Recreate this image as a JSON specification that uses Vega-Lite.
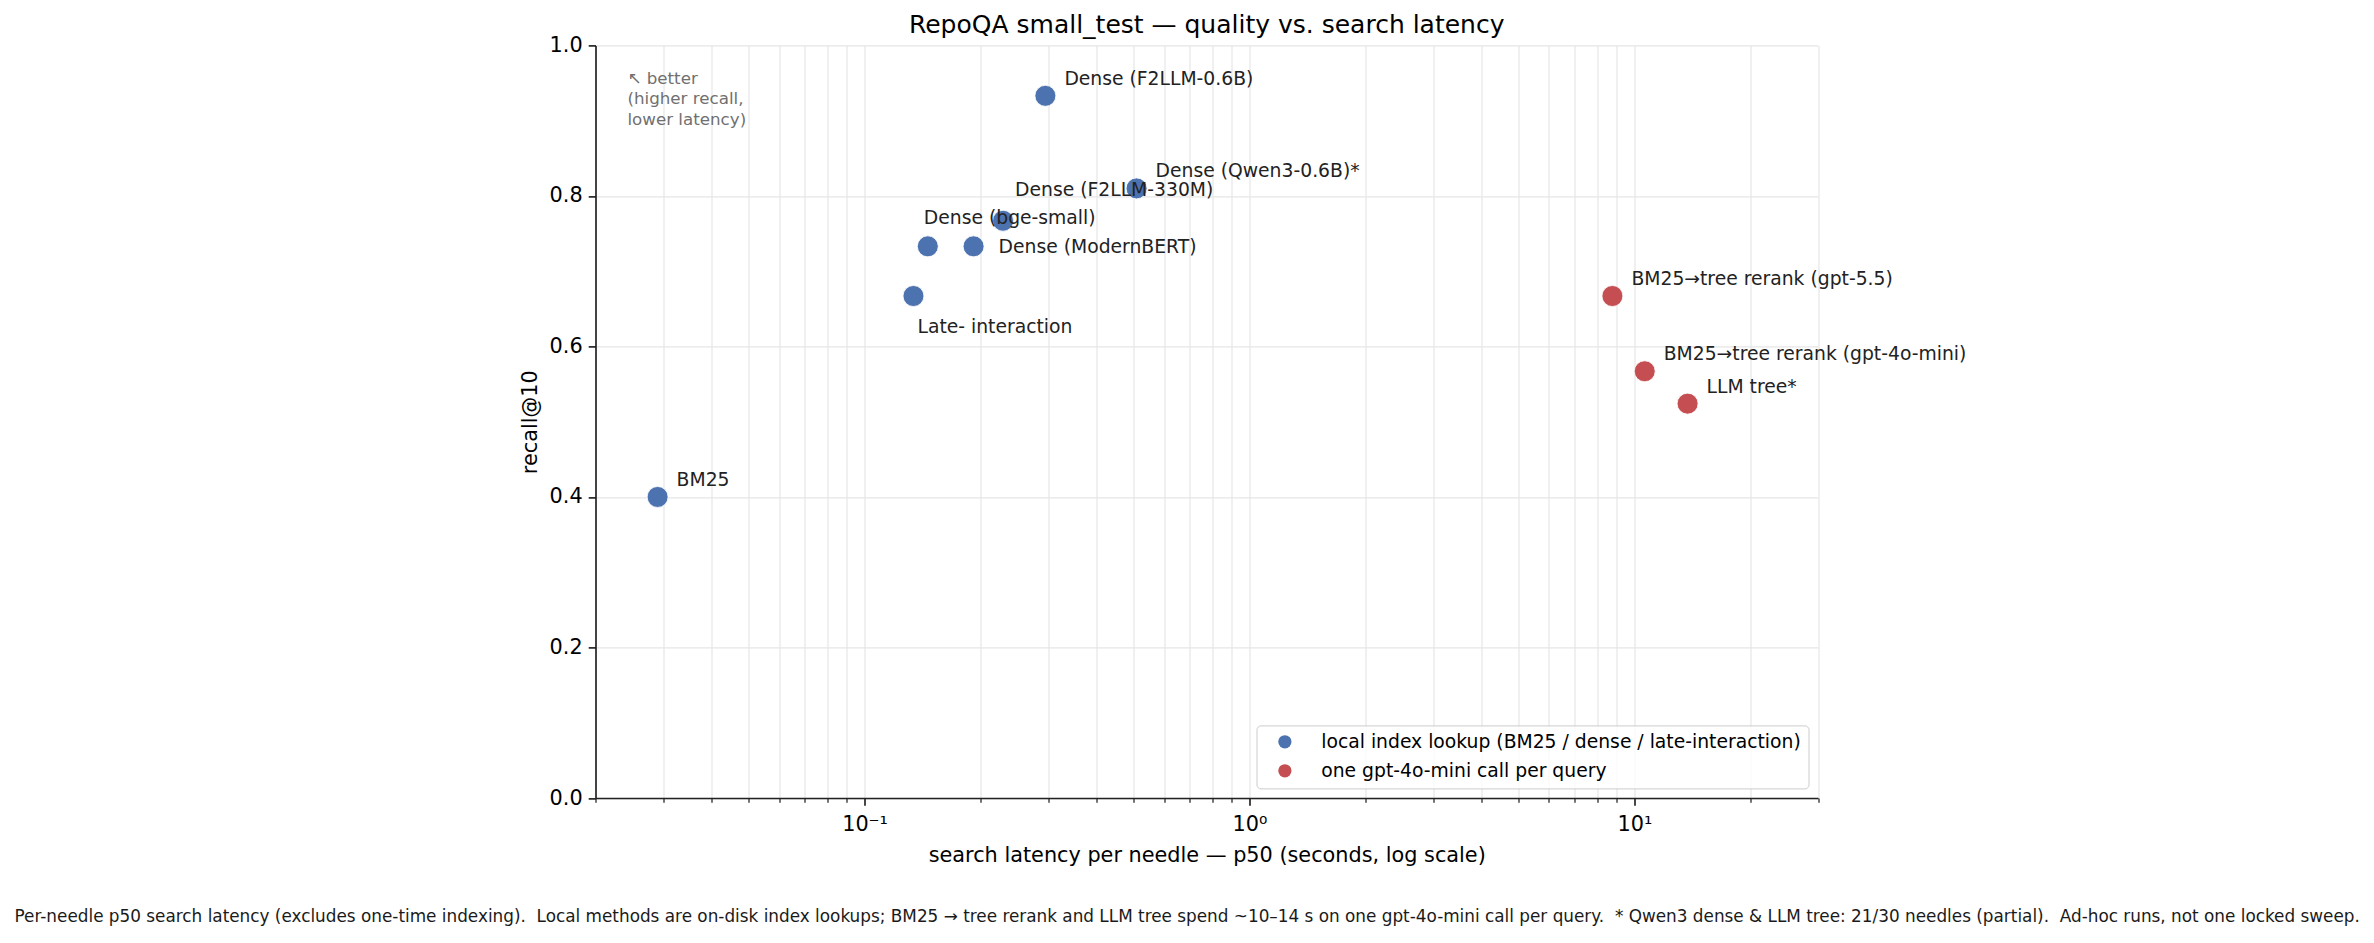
{
  "$schema": "https://vega.github.io/schema/vega-lite/v6.json",
  "width": 1222.5,
  "height": 752.6,
  "autosize": {"type": "none"},
  "padding": {"left": 595.5, "top": 45.4, "right": 556, "bottom": 145},
  "background": "white",
  "title": {
    "text": "RepoQA small_test — quality vs. search latency",
    "fontSize": 25,
    "font": "DejaVu Sans",
    "fontWeight": "normal",
    "color": "#000000",
    "anchor": "middle",
    "frame": "group",
    "baseline": "alphabetic",
    "offset": -24
  },
  "config": {
    "view": {"stroke": null},
    "font": "DejaVu Sans",
    "axis": {
      "labelFont": "DejaVu Sans",
      "titleFont": "DejaVu Sans",
      "labelFontSize": 20.8,
      "titleFontSize": 20.8,
      "titleFontWeight": "normal",
      "labelColor": "#000000",
      "titleColor": "#000000",
      "domainColor": "#222222",
      "domainWidth": 1.67,
      "tickColor": "#222222",
      "gridColor": "#e6e6e6",
      "gridWidth": 1.2
    }
  },
  "data": {
    "values": [
      {"label": "BM25", "lat": 0.029, "recall": 0.4, "kind": "local index lookup (BM25 / dense / late-interaction)"},
      {"label": "Late- interaction", "lat": 0.134, "recall": 0.667, "kind": "local index lookup (BM25 / dense / late-interaction)"},
      {"label": "Dense (bge-small)", "lat": 0.146, "recall": 0.733, "kind": "local index lookup (BM25 / dense / late-interaction)"},
      {"label": "Dense (ModernBERT)", "lat": 0.192, "recall": 0.733, "kind": "local index lookup (BM25 / dense / late-interaction)"},
      {"label": "Dense (F2LLM-330M)", "lat": 0.229, "recall": 0.767, "kind": "local index lookup (BM25 / dense / late-interaction)"},
      {"label": "Dense (F2LLM-0.6B)", "lat": 0.295, "recall": 0.933, "kind": "local index lookup (BM25 / dense / late-interaction)"},
      {"label": "Dense (Qwen3-0.6B)*", "lat": 0.509, "recall": 0.81, "kind": "local index lookup (BM25 / dense / late-interaction)"},
      {"label": "BM25→tree rerank (gpt-5.5)", "lat": 8.77, "recall": 0.667, "kind": "one gpt-4o-mini call per query"},
      {"label": "BM25→tree rerank (gpt-4o-mini)", "lat": 10.64, "recall": 0.567, "kind": "one gpt-4o-mini call per query"},
      {"label": "LLM tree*", "lat": 13.75, "recall": 0.524, "kind": "one gpt-4o-mini call per query"}
    ]
  },
  "layer": [
    {
      "mark": {"type": "circle", "size": 440, "opacity": 1, "stroke": "white", "strokeWidth": 0.8},
      "encoding": {
        "x": {
          "field": "lat",
          "type": "quantitative",
          "scale": {"type": "log", "domain": [0.02, 30], "nice": false},
          "axis": {
            "title": "search latency per needle — p50 (seconds, log scale)",
            "values": [0.02, 0.03, 0.04, 0.05, 0.06, 0.07, 0.08, 0.09, 0.1, 0.2, 0.3, 0.4, 0.5, 0.6, 0.7, 0.8, 0.9, 1, 2, 3, 4, 5, 6, 7, 8, 9, 10, 20, 30],
            "labelExpr": "datum.value == 0.1 ? '10⁻¹' : datum.value == 1 ? '10⁰' : datum.value == 10 ? '10¹' : ''",
            "labelOverlap": false,
            "labelFlush": false,
            "labelPadding": 9,
            "titlePadding": 11,
            "tickSize": {"condition": {"test": "datum.value == 0.1 || datum.value == 1 || datum.value == 10", "value": 7.3}, "value": 4.2},
            "tickWidth": {"condition": {"test": "datum.value == 0.1 || datum.value == 1 || datum.value == 10", "value": 1.67}, "value": 1.25},
            "grid": true
          }
        },
        "y": {
          "field": "recall",
          "type": "quantitative",
          "scale": {"domain": [0, 1], "nice": false},
          "axis": {
            "title": "recall@10",
            "values": [0, 0.2, 0.4, 0.6, 0.8, 1],
            "format": ".1f",
            "tickSize": 7.3,
            "tickWidth": 1.67,
            "labelPadding": 6,
            "titlePadding": 9,
            "grid": true
          }
        },
        "color": {
          "field": "kind",
          "type": "nominal",
          "scale": {
            "domain": ["local index lookup (BM25 / dense / late-interaction)", "one gpt-4o-mini call per query"],
            "range": ["#4C72B0", "#C44E52"]
          },
          "legend": {
            "title": null,
            "orient": "bottom-right",
            "offset": 10,
            "fillColor": "rgba(255,255,255,0.8)",
            "strokeColor": "#cccccc",
            "cornerRadius": 4,
            "padding": 7,
            "symbolOffset": 12,
            "symbolType": "circle",
            "symbolSize": 175,
            "symbolStrokeWidth": 0,
            "labelOffset": 27,
            "labelFontSize": 18.75,
            "labelFont": "DejaVu Sans",
            "labelColor": "#000000",
            "labelLimit": 1000,
            "rowPadding": 9
          }
        }
      }
    },
    {
      "transform": [{"filter": {"field": "label", "oneOf": ["BM25", "Dense (F2LLM-0.6B)", "Dense (Qwen3-0.6B)*", "BM25→tree rerank (gpt-5.5)", "BM25→tree rerank (gpt-4o-mini)", "LLM tree*"]}}],
      "mark": {"type": "text", "align": "left", "baseline": "middle", "dx": 19, "dy": -17, "fontSize": 18.75, "font": "DejaVu Sans", "color": "#222222"},
      "encoding": {"x": {"field": "lat", "type": "quantitative"}, "y": {"field": "recall", "type": "quantitative"}, "text": {"field": "label"}}
    },
    {
      "transform": [{"filter": {"field": "label", "equal": "Dense (F2LLM-330M)"}}],
      "mark": {"type": "text", "align": "left", "baseline": "middle", "dx": 12, "dy": -31, "fontSize": 18.75, "font": "DejaVu Sans", "color": "#222222"},
      "encoding": {"x": {"field": "lat", "type": "quantitative"}, "y": {"field": "recall", "type": "quantitative"}, "text": {"field": "label"}}
    },
    {
      "transform": [{"filter": {"field": "label", "equal": "Dense (bge-small)"}}],
      "mark": {"type": "text", "align": "left", "baseline": "middle", "dx": -4, "dy": -28, "fontSize": 18.75, "font": "DejaVu Sans", "color": "#222222"},
      "encoding": {"x": {"field": "lat", "type": "quantitative"}, "y": {"field": "recall", "type": "quantitative"}, "text": {"field": "label"}}
    },
    {
      "transform": [{"filter": {"field": "label", "equal": "Dense (ModernBERT)"}}],
      "mark": {"type": "text", "align": "left", "baseline": "middle", "dx": 25, "dy": 1, "fontSize": 18.75, "font": "DejaVu Sans", "color": "#222222"},
      "encoding": {"x": {"field": "lat", "type": "quantitative"}, "y": {"field": "recall", "type": "quantitative"}, "text": {"field": "label"}}
    },
    {
      "transform": [{"filter": {"field": "label", "equal": "Late- interaction"}}],
      "mark": {"type": "text", "align": "left", "baseline": "middle", "dx": 4, "dy": 31, "fontSize": 18.75, "font": "DejaVu Sans", "color": "#222222"},
      "encoding": {"x": {"field": "lat", "type": "quantitative"}, "y": {"field": "recall", "type": "quantitative"}, "text": {"field": "label"}}
    },
    {
      "data": {"values": [{"note": "better"}]},
      "mark": {"type": "text", "align": "left", "baseline": "top", "fontSize": 16.7, "font": "DejaVu Sans", "color": "#707070", "lineHeight": 20.5,
        "text": ["↖ better", "(higher recall,", "lower latency)"]},
      "encoding": {
        "x": {"datum": 0.02421, "type": "quantitative"},
        "y": {"datum": 0.966, "type": "quantitative"}
      }
    },
    {
      "data": {"values": [{"note": "footnote"}]},
      "mark": {"type": "text", "align": "center", "baseline": "middle", "fontSize": 16.85, "font": "DejaVu Sans", "color": "#1a1a1a",
        "text": "Per-needle p50 search latency (excludes one-time indexing).\u00a0 Local methods are on-disk index lookups; BM25 → tree rerank and LLM tree spend ~10–14 s on one gpt-4o-mini call per query.\u00a0 * Qwen3 dense & LLM tree: 21/30 needles (partial).\u00a0 Ad-hoc runs, not one locked sweep."},
      "encoding": {
        "x": {"datum": 0.689, "type": "quantitative"},
        "y": {"datum": -0.158, "type": "quantitative"}
      }
    }
  ]
}
